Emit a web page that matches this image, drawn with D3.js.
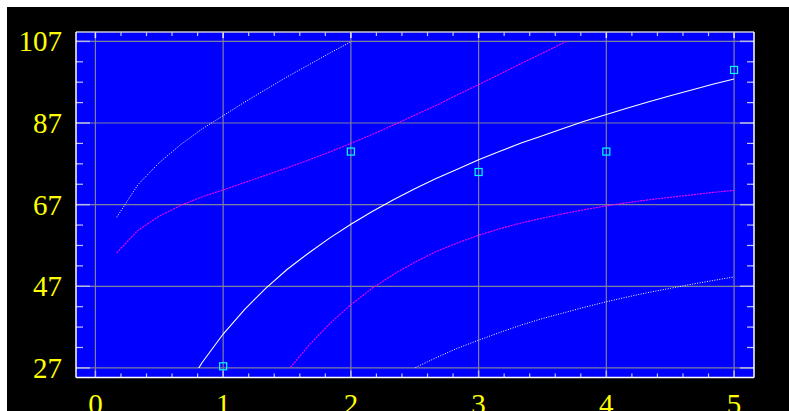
<!DOCTYPE html>
<html>
<head>
<meta charset="utf-8">
<script src="https://cdn.jsdelivr.net/npm/d3@7"></script>
<style>
  html, body { margin: 0; padding: 0; background: #ffffff; }
  svg { display: block; }
</style>
</head>
<body>
<svg id="chart" width="789" height="411"></svg>
<script>
// Observed points
const pointX = [1, 2, 3, 4, 5];
const pointY = [27.4, 80, 75, 80, 100];

// Curve sample positions along x
const sampleX = [0.167, 0.333, 0.5, 0.667, 0.833, 1.0, 1.167, 1.333, 1.5, 1.667,
                 1.833, 2.0, 2.167, 2.333, 2.5, 2.667, 2.833, 3.0, 3.167, 3.333,
                 3.5, 3.667, 3.833, 4.0, 4.167, 4.333, 4.5, 4.667, 4.833, 5.0];

// Fitted curve
const fitY = [null, null, null, 19.6, 28.2, 35.3, 41.3, 46.5, 51.1, 55.1,
              58.8, 62.2, 65.3, 68.2, 70.9, 73.4, 75.7, 78.0, 80.1, 82.1,
              83.9, 85.7, 87.5, 89.1, 90.7, 92.2, 93.7, 95.1, 96.5, 97.8];

// Confidence band (upper / lower)
const confUpper = [55.2, 60.7, 64.2, 66.8, 68.9, 70.6, 72.4, 74.2, 76.0, 77.9,
                   79.9, 82.0, 84.2, 86.5, 88.9, 91.3, 93.9, 96.4, 99.0, 101.6,
                   104.1, 106.7, 109.1, null, null, null, null, null, null, null];
const confLower = [null, null, null, null, null, null, null, 18.8, 26.1, 32.4,
                   37.8, 42.5, 46.5, 49.9, 52.9, 55.5, 57.6, 59.5, 61.1, 62.5,
                   63.7, 64.8, 65.8, 66.7, 67.5, 68.2, 68.8, 69.4, 70.0, 70.5];

// Prediction band (upper / lower)
const predUpper = [63.9, 71.9, 77.3, 81.7, 85.5, 88.8, 92.1, 95.2, 98.3, 101.2,
                   104.1, 106.9, 109.6, null, null, null, null, null, null, null,
                   null, null, null, null, null, null, null, null, null, null];
const predLower = [null, null, null, null, null, null, null, null, null, null,
                   null, null, null, 24.2, 27.0, 29.5, 31.8, 33.8, 35.7, 37.5,
                   39.1, 40.5, 41.9, 43.2, 44.4, 45.5, 46.5, 47.5, 48.4, 49.3];

// Axis ticks
const xTickValues = [0, 1, 2, 3, 4, 5];
const yTickValues = [27, 47, 67, 87, 107];
const xMinorTicks = [0.2, 0.4, 0.6, 0.8, 1.2, 1.4, 1.6, 1.8, 2.2, 2.4, 2.6, 2.8,
                     3.2, 3.4, 3.6, 3.8, 4.2, 4.4, 4.6, 4.8];
const yMinorTicks = [32, 37, 42, 52, 57, 62, 72, 77, 82, 92, 97, 102];
const clipRange = [27, 107];

const W = 789, H = 411;
const plot = { left: 76, top: 32, right: 754, bottom: 377.5 };

const svg = d3.select("#chart");

// page frame: thin white edge on top and left, black elsewhere
svg.append("rect").attr("x", 0).attr("y", 0).attr("width", W).attr("height", H).attr("fill", "#ffffff");
svg.append("rect").attr("x", 7).attr("y", 7).attr("width", W - 7).attr("height", H - 7).attr("fill", "#000000");

const x = d3.scaleLinear().domain([-0.152, 5.156]).range([plot.left, plot.right]);
const y = d3.scaleLinear().domain([24.65, 109.3]).range([plot.bottom, plot.top]);

// plot area
svg.append("rect")
  .attr("x", plot.left).attr("y", plot.top)
  .attr("width", plot.right - plot.left).attr("height", plot.bottom - plot.top)
  .attr("fill", "#0000ff");

// grid
const grid = svg.append("g").attr("stroke", "#7f7f9f").attr("stroke-width", 1.2);
grid.selectAll("line.gx").data(xTickValues).join("line")
  .attr("x1", d => x(d)).attr("x2", d => x(d))
  .attr("y1", plot.top).attr("y2", plot.bottom);
grid.selectAll("line.gy").data(yTickValues).join("line")
  .attr("x1", plot.left).attr("x2", plot.right)
  .attr("y1", d => y(d)).attr("y2", d => y(d));

// clip curves to the labelled value range
svg.append("clipPath").attr("id", "band-clip")
  .append("rect")
  .attr("x", plot.left).attr("y", y(clipRange[1]))
  .attr("width", plot.right - plot.left).attr("height", y(clipRange[0]) - y(clipRange[1]));

const curves = svg.append("g").attr("clip-path", "url(#band-clip)").attr("fill", "none");

function drawCurve(values, color, dash, width) {
  const line = d3.line()
    .defined(d => d[1] != null)
    .x(d => x(d[0]))
    .y(d => y(d[1]));
  const pts = sampleX.map((v, i) => [v, values[i]]);
  curves.append("path")
    .attr("d", line(pts))
    .attr("stroke", color)
    .attr("stroke-width", width)
    .attr("stroke-dasharray", dash);
}

drawCurve(predUpper, "#ffffff", "1,1.5", 1);
drawCurve(predLower, "#ffffff", "1,1.5", 1);
drawCurve(confUpper, "#ff00ff", "2,1", 1.1);
drawCurve(confLower, "#ff00ff", "2,1", 1.1);
drawCurve(fitY, "#ffffff", null, 1.1);

// observed points as hollow squares
svg.append("g").selectAll("rect").data(pointX.map((v, i) => [v, pointY[i]])).join("rect")
  .attr("x", d => x(d[0]) - 3.5).attr("y", d => y(d[1]) - 3.5)
  .attr("width", 7).attr("height", 7)
  .attr("fill", "none").attr("stroke", "#00ffff").attr("stroke-width", 1.2);

// inward ticks on all four sides
const ticks = svg.append("g");
const minorColor = "#c4c4ff", majorColor = "#b8b8e8";
xMinorTicks.forEach(v => {
  ticks.append("line").attr("x1", x(v)).attr("x2", x(v)).attr("y1", plot.bottom).attr("y2", plot.bottom - 4)
    .attr("stroke", minorColor).attr("stroke-width", 1.2);
  ticks.append("line").attr("x1", x(v)).attr("x2", x(v)).attr("y1", plot.top).attr("y2", plot.top + 4)
    .attr("stroke", minorColor).attr("stroke-width", 1.2);
});
xTickValues.forEach(v => {
  ticks.append("line").attr("x1", x(v)).attr("x2", x(v)).attr("y1", plot.bottom).attr("y2", plot.bottom - 7)
    .attr("stroke", majorColor).attr("stroke-width", 1.5);
  ticks.append("line").attr("x1", x(v)).attr("x2", x(v)).attr("y1", plot.top).attr("y2", plot.top + 6)
    .attr("stroke", "#e8e8ff").attr("stroke-width", 1.5);
});
yMinorTicks.forEach(v => {
  ticks.append("line").attr("x1", plot.left).attr("x2", plot.left + 7).attr("y1", y(v)).attr("y2", y(v))
    .attr("stroke", minorColor).attr("stroke-width", 1.2);
  ticks.append("line").attr("x1", plot.right).attr("x2", plot.right - 7).attr("y1", y(v)).attr("y2", y(v))
    .attr("stroke", minorColor).attr("stroke-width", 1.2);
});
yTickValues.forEach(v => {
  ticks.append("line").attr("x1", plot.left).attr("x2", plot.left + 14).attr("y1", y(v)).attr("y2", y(v))
    .attr("stroke", majorColor).attr("stroke-width", 1.5);
  ticks.append("line").attr("x1", plot.right).attr("x2", plot.right - 14).attr("y1", y(v)).attr("y2", y(v))
    .attr("stroke", majorColor).attr("stroke-width", 1.5);
});

// plot border
const border = svg.append("g").attr("stroke-width", 1.5);
border.append("line").attr("x1", plot.left).attr("x2", plot.right).attr("y1", plot.top).attr("y2", plot.top).attr("stroke", "#c8c8d8");
border.append("line").attr("x1", plot.left).attr("x2", plot.right).attr("y1", plot.bottom).attr("y2", plot.bottom).attr("stroke", "#ffffff");
border.append("line").attr("x1", plot.left).attr("x2", plot.left).attr("y1", plot.top).attr("y2", plot.bottom).attr("stroke", "#ffffff");
border.append("line").attr("x1", plot.right).attr("x2", plot.right).attr("y1", plot.top).attr("y2", plot.bottom).attr("stroke", "#ffffff");

// tick labels
const labelFont = "'Liberation Serif', 'Times New Roman', serif";
svg.append("g").selectAll("text").data(yTickValues).join("text")
  .attr("x", 62).attr("y", d => y(d) + 10)
  .attr("text-anchor", "end")
  .attr("font-family", labelFont).attr("font-size", 29)
  .attr("fill", "#ffff00")
  .text(d => d);
svg.append("g").selectAll("text").data(xTickValues).join("text")
  .attr("x", d => x(d)).attr("y", plot.bottom + 36)
  .attr("text-anchor", "middle")
  .attr("font-family", labelFont).attr("font-size", 29)
  .attr("fill", "#ffff00")
  .text(d => d);
</script>
</body>
</html>
